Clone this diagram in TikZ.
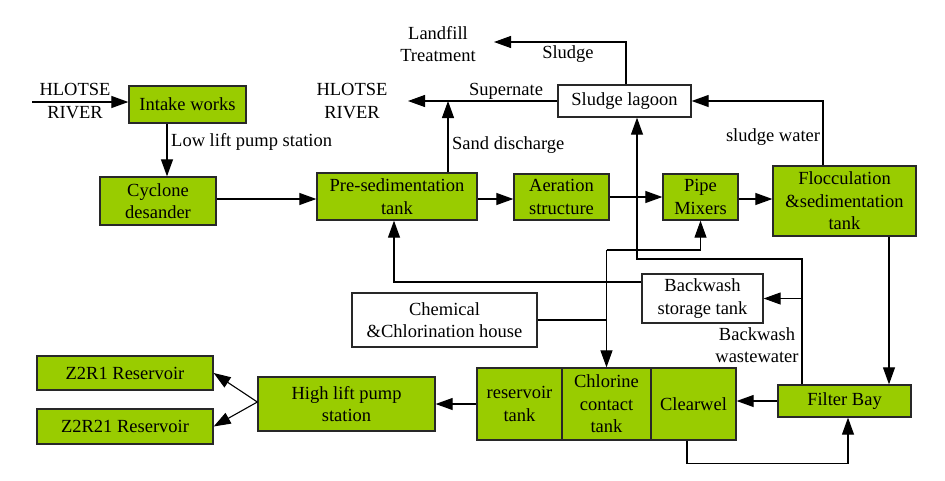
\documentclass[tikz,border=0pt]{standalone}
\usepackage{fontspec}
\setmainfont{Liberation Serif}
\usetikzlibrary{arrows.meta,calc}
\definecolor{boxgreen}{RGB}{153,204,0}
\definecolor{edge}{RGB}{40,40,40}
\tikzset{
  every node/.style={font=\fontsize{18.5}{22.5}\selectfont, align=center, inner sep=0pt},
  gbox/.style={draw=edge, line width=1.3pt, fill=boxgreen},
  wbox/.style={draw=edge, line width=1.3pt, fill=white},
  conn/.style={draw=black, line width=1.1pt},
  arr/.style={conn, -{Triangle[length=17pt,width=12pt]}}
}
\begin{document}
\begin{tikzpicture}[x=1pt,y=-1pt]
\useasboundingbox (0,0) rectangle (945,480);
% green boxes
\node[gbox, minimum width=117pt, minimum height=37pt] (intake) at (187.5,104.5) {Intake works};
\node[gbox, minimum width=116pt, minimum height=48pt] (cyclone) at (158,201) {Cyclone\\desander};
\node[gbox, minimum width=160pt, minimum height=47pt] (presed) at (397,196.5) {Pre-sedimentation\\tank};
\node[gbox, minimum width=95pt, minimum height=46pt] (aeration) at (561.5,197) {Aeration\\structure};
\node[gbox, minimum width=75pt, minimum height=46pt] (pipe) at (700.5,197) {Pipe\\Mixers};
\node[gbox, minimum width=143pt, minimum height=70pt] (floc) at (844.5,201) {Flocculation\\\&sedimentation\\tank};
\node[gbox, minimum width=133pt, minimum height=32pt] (filter) at (844.5,401) {Filter Bay};
\node[gbox, minimum width=85pt, minimum height=72pt] (restank) at (519.5,404) {reservoir\\tank};
\node[gbox, minimum width=89pt, minimum height=72pt] (chlorine) at (606.5,404) {Chlorine\\contact\\tank};
\node[gbox, minimum width=85pt, minimum height=72pt] (clearwel) at (693.5,404) {Clearwel};
\node[gbox, minimum width=177pt, minimum height=54pt] (highlift) at (346.5,404) {High lift pump\\station};
\node[gbox, minimum width=176pt, minimum height=34pt] (zr1) at (125,373) {Z2R1 Reservoir};
\node[gbox, minimum width=176pt, minimum height=35pt] (zr21) at (125,426.5) {Z2R21 Reservoir};
% white boxes
\node[wbox, minimum width=133pt, minimum height=32pt] (lagoon) at (624.5,101) {Sludge lagoon};
\node[wbox, minimum width=121pt, minimum height=49pt] (backwash) at (702.5,298.5) {Backwash\\storage tank};
\node[wbox, minimum width=185pt, minimum height=54pt] (chemical) at (444.5,320) {Chemical\\\&Chlorination house};
% plain texts
\node (river1) at (75,101) {HLOTSE\\RIVER};
\node (river2) at (352,101) {HLOTSE\\RIVER};
\node (landfill) at (438,44) {Landfill\\Treatment};
\node[anchor=west] (lowlift) at (171,142) {Low lift pump station};
\node[anchor=west] (sanddis) at (452,145) {Sand discharge};
\node (supernate) at (506,91) {Supernate};
\node (sludge) at (568,54) {Sludge};
\node (sludgew) at (773,137) {sludge water};
\node (bwww) at (757,345) {Backwash\\wastewater};
% coordinates
\coordinate (riverin) at (32,102);
\coordinate (supend) at (408,101);
\coordinate (landend) at (494,42);
\coordinate (j1) at (606.5,250);
\coordinate (j2) at (802,259);
% connectors
\draw[arr] (riverin) -- (riverin -| intake.west);
\draw[arr] ([xshift=-20.5pt]intake.south) -- ([xshift=-20.5pt]intake.south |- cyclone.north);
\draw[arr] ([yshift=2pt]cyclone.east) -- ([yshift=2pt]cyclone.east -| presed.west);
\draw[arr] ([yshift=-2.5pt]presed.east) -- ([yshift=-2.5pt]presed.east -| aeration.west);
\draw[arr] (aeration.east) -- (aeration.east -| pipe.west);
\draw[arr] ([yshift=-2pt]pipe.east) -- ([yshift=-2pt]pipe.east -| floc.west);
\draw[arr] ([xshift=44.5pt]floc.south) -- ([xshift=44.5pt]floc.south |- filter.north);
\draw[arr] (filter.west) -- (filter.west -| clearwel.east);
\draw[arr] ([xshift=-6.5pt]clearwel.south) -- ++(0,23) -| ([xshift=3.5pt]filter.south);
\draw[arr] (restank.west) -- (restank.west -| highlift.east);
\draw[arr] ([yshift=2pt]highlift.west) -- (zr1.east);
\draw[arr] ([yshift=2pt]highlift.west) -- (zr21.east);
\draw[arr] (lagoon.west) -- (supend);
\draw[arr] ([xshift=51pt]presed.north) -- ([xshift=51pt]presed.north |- supend);
\draw[arr] ([xshift=1.5pt]lagoon.north) |- (landend);
\draw[arr] ([xshift=-21.5pt]floc.north) |- (lagoon.east);
\draw[arr] ([xshift=-42.5pt]filter.north) -- (j2) -| ([xshift=12.5pt]lagoon.south);
\draw[arr] (j2 |- backwash.east) -- (backwash.east);
\draw[arr] ([yshift=16.5pt]backwash.west) -| ([xshift=-3pt]presed.south);
\draw[conn] (chemical.east) -- (chemical.east -| j1);
\draw[arr] (j1) -- (chlorine.north);
\draw[arr] (j1) -| (pipe.south);
\end{tikzpicture}
\end{document}
